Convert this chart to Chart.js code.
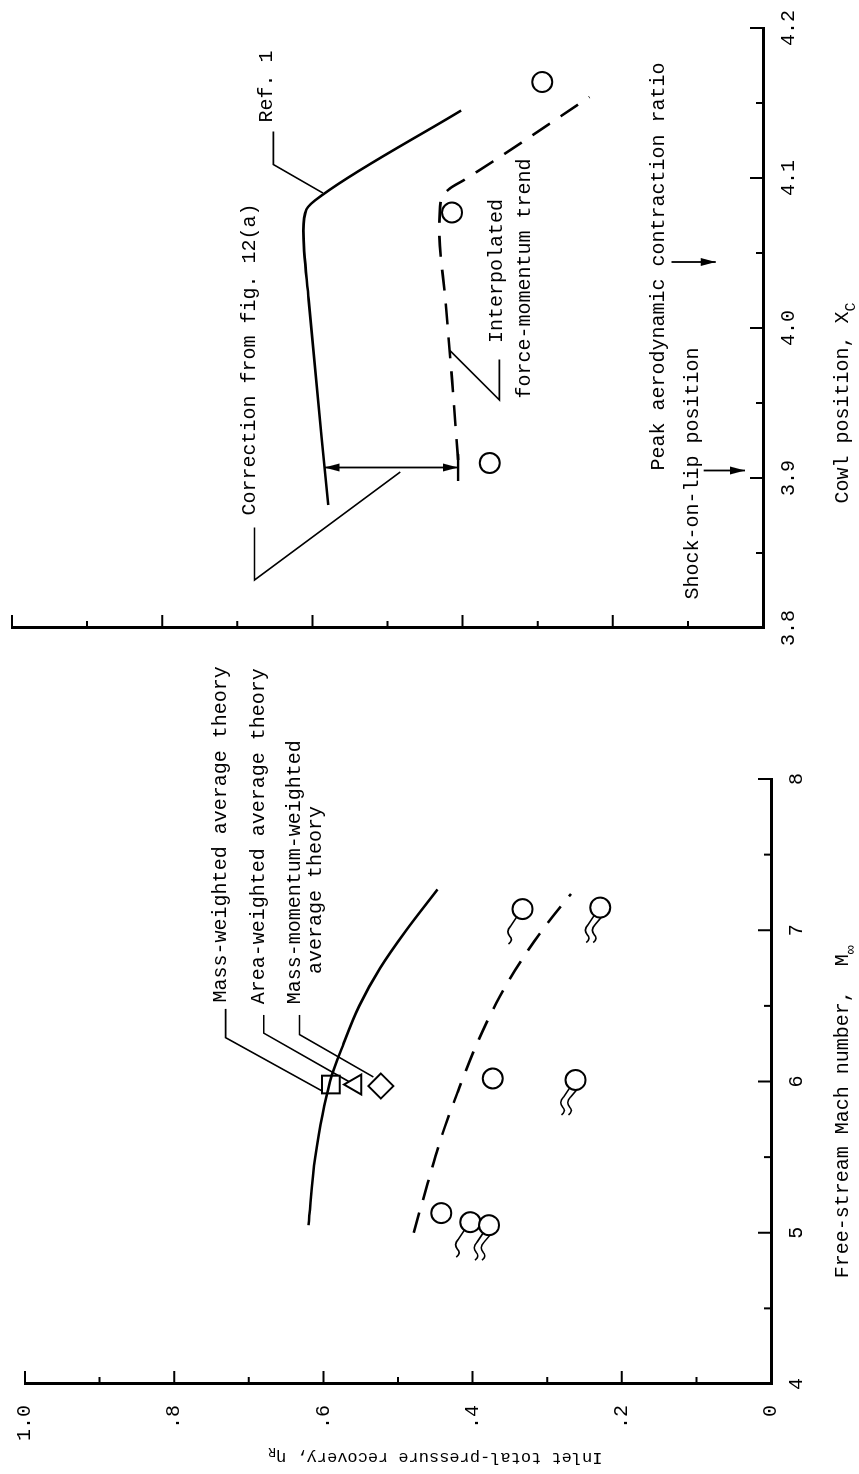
<!DOCTYPE html>
<html>
<head>
<meta charset="utf-8">
<script src="https://cdn.jsdelivr.net/npm/chart.js@4.4.1/dist/chart.umd.min.js"></script>
<style>
html, body { margin: 0; padding: 0; background: #fff; overflow: hidden; }
/* the figure is laid out upright, then turned a quarter turn like the printed page */
#page { position: absolute; left: 0; top: 0; width: 1474px; height: 859px;
        transform-origin: 0 0; transform: translate(0, 1474px) rotate(-90deg); }
#page canvas { position: absolute; top: 0; left: 0; }
</style>
</head>
<body>
<div id="page">
  <canvas id="machChart" width="1474" height="859"></canvas>
  <canvas id="cowlChart" width="1474" height="859"></canvas>
</div>
<script>
// ---- left panel: free-stream Mach number ----
const machTicks = [4, 5, 6, 7, 8];
const recoveryTicks = [0, 0.2, 0.4, 0.6, 0.8, 1.0];

// theory curve (solid)
const machTheory = [5.05, 5.5, 6.0, 6.25, 6.5, 6.75, 7.0, 7.27];
const recTheory = [0.620, 0.611, 0.591, 0.573, 0.552, 0.524, 0.489, 0.447];

// force-momentum trend (dashed)
const machTrend = [5.0, 5.33, 5.63, 5.93, 6.23, 6.52, 6.79, 7.07, 7.24];
const recTrend = [0.479, 0.460, 0.442, 0.420, 0.396, 0.368, 0.336, 0.296, 0.268];

// test points (open circles), number of flag tails on each
const machPoints = [7.14, 7.15, 6.02, 6.01, 5.13, 5.07, 5.05];
const recPoints = [0.333, 0.229, 0.373, 0.262, 0.442, 0.403, 0.378];
const pointTails = [1, 2, 0, 2, 0, 1, 2];

// averaged theory markers at M = 6
const machMarkers = [5.98, 5.98, 5.97];
const recMarkers = [0.590, 0.557, 0.523];
const markerStyles = ['rect', 'triangle', 'rectRot'];

// ---- right panel: cowl position ----
const cowlTicks = [3.8, 3.9, 4.0, 4.1, 4.2];

// Ref. 1 (solid)
const cowlRef = [3.882, 4.019, 4.065, 4.079, 4.089, 4.145];
const recRef = [0.579, 0.605, 0.612, 0.608, 0.586, 0.402];

// interpolated force-momentum trend (dashed)
const cowlTrend = [3.912, 3.965, 4.019, 4.065, 4.085, 4.093, 4.099, 4.154];
const recTrendCowl = [0.406, 0.414, 0.423, 0.431, 0.429, 0.417, 0.397, 0.231];

// test points
const cowlPoints = [4.164, 4.077, 3.91];
const recPointsCowl = [0.294, 0.414, 0.364];

const FONT = '"Liberation Mono", "DejaVu Sans Mono", monospace';
Chart.defaults.font.family = FONT;
Chart.defaults.font.size = 20;
Chart.defaults.color = '#000';

const pairs = (xs, ys) => xs.map((x, i) => ({ x: x, y: ys[i] }));

// ---- drawing helpers ----
function toPx(chart, p) {
    return [chart.scales.x.getPixelForValue(p[0]), chart.scales.y.getPixelForValue(p[1])];
}

function polyline(chart, pts, width) {
    const ctx = chart.ctx;
    ctx.save();
    ctx.strokeStyle = '#000';
    ctx.lineWidth = width || 1.6;
    ctx.beginPath();
    pts.forEach((p, i) => {
        const q = toPx(chart, p);
        if (i === 0) ctx.moveTo(q[0], q[1]); else ctx.lineTo(q[0], q[1]);
    });
    ctx.stroke();
    ctx.restore();
}

function arrowHead(ctx, x1, y1, x2, y2) {
    const a = Math.atan2(y2 - y1, x2 - x1);
    const len = 15, half = 4;
    ctx.beginPath();
    ctx.moveTo(x2, y2);
    ctx.lineTo(x2 - len * Math.cos(a) + half * Math.sin(a), y2 - len * Math.sin(a) - half * Math.cos(a));
    ctx.lineTo(x2 - len * Math.cos(a) - half * Math.sin(a), y2 - len * Math.sin(a) + half * Math.cos(a));
    ctx.closePath();
    ctx.fill();
}

function arrow(chart, from, to, both) {
    const ctx = chart.ctx;
    const a = toPx(chart, from), b = toPx(chart, to);
    ctx.save();
    ctx.strokeStyle = '#000';
    ctx.fillStyle = '#000';
    ctx.lineWidth = 1.8;
    ctx.beginPath();
    ctx.moveTo(a[0], a[1]);
    ctx.lineTo(b[0], b[1]);
    ctx.stroke();
    arrowHead(ctx, a[0], a[1], b[0], b[1]);
    if (both) arrowHead(ctx, b[0], b[1], a[0], a[1]);
    ctx.restore();
}

function label(chart, item) {
    const ctx = chart.ctx;
    const q = toPx(chart, [item.x, item.y]);
    ctx.save();
    ctx.fillStyle = '#000';
    ctx.font = '20px ' + FONT;
    ctx.textAlign = 'left';
    ctx.textBaseline = 'middle';
    ctx.fillText(item.text, q[0], q[1]);
    ctx.restore();
}

// text with a subscript, centred on (x, y)
function subText(ctx, x, y, main, sub, rot, size) {
    size = size || 20;
    const subSize = Math.round(size * 0.75);
    ctx.save();
    ctx.translate(x, y);
    if (rot) ctx.rotate(rot);
    ctx.fillStyle = '#000';
    ctx.textBaseline = 'middle';
    ctx.textAlign = 'left';
    ctx.font = size + 'px ' + FONT;
    const w1 = ctx.measureText(main).width;
    ctx.font = subSize + 'px ' + FONT;
    const w2 = ctx.measureText(sub).width;
    const x0 = -(w1 + w2) / 2;
    ctx.font = size + 'px ' + FONT;
    ctx.fillText(main, x0, 0);
    ctx.font = subSize + 'px ' + FONT;
    ctx.fillText(sub, x0 + w1, size * 0.4);
    ctx.restore();
}

// ticks point into the plot, majors longer than minors
function inwardTicks(chart, xMajor, xStep, yMajor, yStep) {
    const ctx = chart.ctx, xs = chart.scales.x, ys = chart.scales.y, area = chart.chartArea;
    ctx.save();
    ctx.strokeStyle = '#000';
    ctx.lineWidth = 2;
    ctx.beginPath();
    for (let v = xs.min; v <= xs.max + 1e-9; v += xStep) {
        const p = xs.getPixelForValue(v);
        const major = xMajor.some(t => Math.abs(t - v) < 1e-6);
        ctx.moveTo(p, area.bottom);
        ctx.lineTo(p, area.bottom - (major ? 13 : 7));
    }
    for (let v = ys.min; v <= ys.max + 1e-9; v += yStep) {
        const p = ys.getPixelForValue(v);
        const major = yMajor.some(t => Math.abs(t - v) < 1e-6);
        ctx.moveTo(area.left, p);
        ctx.lineTo(area.left + (major ? 13 : 7), p);
    }
    ctx.stroke();
    ctx.restore();
}

// little flag tails under some test symbols; drawn in page orientation
function drawTails(chart, dsIndex, tails) {
    const ctx = chart.ctx;
    const meta = chart.getDatasetMeta(dsIndex);
    ctx.save();
    ctx.strokeStyle = '#000';
    ctx.lineWidth = 1.6;
    meta.data.forEach((el, i) => {
        for (let k = 0; k < tails[i]; k++) {
            const cx = el.x, cy = el.y;
            const P = (dx, dy) => [cx - dy, cy + dx];
            const s = k * 7;
            const sx = -6 + s, sy = Math.sqrt(Math.max(0, 100 - sx * sx));
            let a = P(sx, sy), b = P(-12 + s, 17);
            ctx.beginPath();
            ctx.moveTo(a[0], a[1]);
            ctx.lineTo(b[0], b[1]);
            let c1 = P(-17 + s, 22), e1 = P(-13 + s, 27);
            ctx.quadraticCurveTo(c1[0], c1[1], e1[0], e1[1]);
            let c2 = P(-9 + s, 31), e2 = P(-14 + s, 35);
            ctx.quadraticCurveTo(c2[0], c2[1], e2[0], e2[1]);
            ctx.stroke();
        }
    });
    ctx.restore();
}

function lineSet(xs, ys, dashed) {
    return {
        data: pairs(xs, ys),
        showLine: true,
        borderColor: '#000',
        borderWidth: 2.6,
        borderDash: dashed ? [21, 13] : [],
        pointRadius: 0,
        cubicInterpolationMode: 'monotone'
    };
}

function pointSet(xs, ys, style, radius) {
    return {
        data: pairs(xs, ys),
        showLine: false,
        pointStyle: style,
        pointRadius: radius,
        borderColor: '#000',
        backgroundColor: '#fff',
        pointBorderWidth: 2
    };
}

function baseOptions(padding, yWidth, xHeight) {
    return {
        responsive: false,
        animation: false,
        devicePixelRatio: 1,
        layout: { padding: padding },
        plugins: { legend: { display: false }, tooltip: { enabled: false } },
        scales: {
            x: {
                type: 'linear',
                grid: { display: false },
                border: { display: true, color: '#000', width: 3 },
                afterFit: s => { s.height = xHeight; }
            },
            y: {
                type: 'linear',
                min: 0, max: 1,
                grid: { display: false },
                border: { display: true, color: '#000', width: 3 },
                afterFit: s => { s.width = yWidth; }
            }
        }
    };
}

// ---- left chart (Mach number), plot spans the lower part of the page ----
const machOptions = baseOptions({ left: 0, right: 779, top: 15, bottom: 0 }, 90, 88);
machOptions.scales.x.min = machTicks[0];
machOptions.scales.x.max = machTicks[machTicks.length - 1];
machOptions.scales.x.ticks = { stepSize: 1, padding: 6 };
machOptions.scales.y.ticks = {
    stepSize: 0.2, padding: 13,
    callback: v => {
        const t = Math.round(v * 10);
        if (t === 0) return '0';
        if (t === 10) return '1.0';
        return '.' + t;
    }
};

const machNotes = {
    leaders: [
        [[6.48, 0.731], [6.29, 0.731], [5.93, 0.599]],
        [[6.44, 0.680], [6.32, 0.680], [6.00, 0.566]],
        [[6.44, 0.632], [6.31, 0.632], [6.03, 0.533]]
    ],
    texts: [
        { x: 6.523, y: 0.738, text: 'Mass-weighted average theory' },
        { x: 6.51, y: 0.687, text: 'Area-weighted average theory' },
        { x: 6.51, y: 0.639, text: 'Mass-momentum-weighted' },
        { x: 6.71, y: 0.610, text: 'average theory' }
    ]
};

const machPlugin = {
    id: 'machDecor',
    beforeDatasetsDraw(chart) {
        machNotes.leaders.forEach(l => polyline(chart, l));
    },
    afterDatasetsDraw(chart) {
        drawTails(chart, 2, pointTails);
    },
    afterDraw(chart) {
        inwardTicks(chart, machTicks, 0.5, recoveryTicks, 0.1);
        machNotes.texts.forEach(t => label(chart, t));
        const ctx = chart.ctx;
        subText(ctx, chart.scales.x.getPixelForValue(5.8), 843, 'Free-stream Mach number,  M', '\u221e');
        subText(ctx, 16, chart.scales.y.getPixelForValue(0.45), 'Inlet total-pressure recovery, \u03b7', 'R', -Math.PI / 2, 17);
    }
};

new Chart(document.getElementById('machChart'), {
    type: 'scatter',
    data: {
        datasets: [
            lineSet(machTheory, recTheory, false),
            lineSet(machTrend, recTrend, true),
            pointSet(machPoints, recPoints, 'circle', 10),
            pointSet(machMarkers.slice(0, 1), recMarkers.slice(0, 1), markerStyles[0], 12.5),
            pointSet(machMarkers.slice(1, 2), recMarkers.slice(1, 2), markerStyles[1], 11.5),
            pointSet(machMarkers.slice(2, 3), recMarkers.slice(2, 3), markerStyles[2], 12.5)
        ]
    },
    options: machOptions,
    plugins: [machPlugin]
});

// ---- right chart (cowl position), plot spans the upper part of the page ----
const cowlOptions = baseOptions({ left: 0, right: 28, top: 7, bottom: 0 }, 846, 96);
cowlOptions.scales.x.min = cowlTicks[0];
cowlOptions.scales.x.max = cowlTicks[cowlTicks.length - 1];
cowlOptions.scales.x.ticks = { stepSize: 0.1, padding: 6, callback: v => Number(v).toFixed(1) };
cowlOptions.scales.y.ticks = { display: false, stepSize: 0.2 };

const cowlNotes = {
    leaders: [
        [[4.131, 0.652], [4.109, 0.652], [4.090, 0.586]],
        [[3.867, 0.677], [3.832, 0.677], [3.904, 0.483]],
        [[3.979, 0.351], [3.952, 0.351], [3.985, 0.417]]
    ],
    texts: [
        { x: 4.137, y: 0.661, text: 'Ref. 1' },
        { x: 3.875, y: 0.684, text: 'Correction from fig. 12(a)' },
        { x: 3.990, y: 0.355, text: 'Interpolated' },
        { x: 3.953, y: 0.317, text: 'force-momentum trend' },
        { x: 3.905, y: 0.139, text: 'Peak aerodynamic contraction ratio' },
        { x: 3.819, y: 0.093, text: 'Shock-on-lip position' }
    ]
};

const cowlPlugin = {
    id: 'cowlDecor',
    beforeDatasetsDraw(chart) {
        cowlNotes.leaders.forEach(l => polyline(chart, l));
        // correction between Ref. 1 and the trend, with end bar
        arrow(chart, [3.907, 0.406], [3.907, 0.584], true);
        polyline(chart, [[3.898, 0.406], [3.916, 0.406]], 2.4);
        arrow(chart, [4.044, 0.122], [4.044, 0.063], false);
        arrow(chart, [3.905, 0.079], [3.905, 0.024], false);
    },
    afterDraw(chart) {
        inwardTicks(chart, cowlTicks, 0.05, recoveryTicks, 0.1);
        cowlNotes.texts.forEach(t => label(chart, t));
        subText(chart.ctx, chart.scales.x.getPixelForValue(3.95), 843, 'Cowl position, X', 'C');
    }
};

new Chart(document.getElementById('cowlChart'), {
    type: 'scatter',
    data: {
        datasets: [
            lineSet(cowlRef, recRef, false),
            lineSet(cowlTrend, recTrendCowl, true),
            pointSet(cowlPoints, recPointsCowl, 'circle', 10)
        ]
    },
    options: cowlOptions,
    plugins: [cowlPlugin]
});
</script>
</body>
</html>
